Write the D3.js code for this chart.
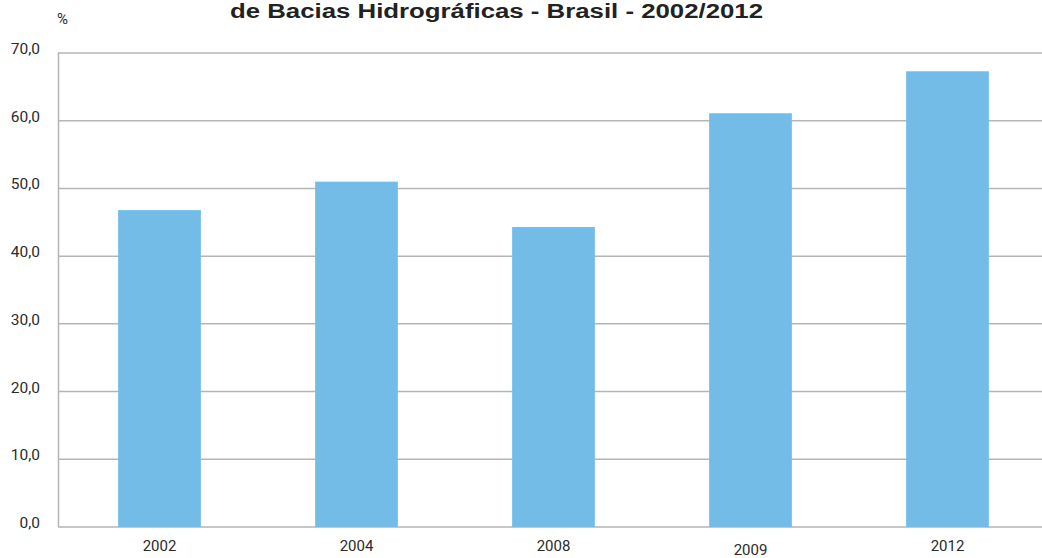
<!DOCTYPE html>
<html>
<head>
<meta charset="utf-8">
<script src="https://cdn.jsdelivr.net/npm/d3@7"></script>
<style>
  body { margin: 0; background: #fff; }
  svg { display: block; font-family: Roboto, "Liberation Sans", sans-serif; }
</style>
</head>
<body>
<div id="chart"></div>
<script>
const years = ["2002", "2004", "2008", "2009", "2012"];
const values = [46.8, 51.0, 44.3, 61.1, 67.3];
const yTicks = [0, 10, 20, 30, 40, 50, 60, 70];
const title = "de Bacias Hidrográficas - Brasil - 2002/2012";

document.addEventListener("DOMContentLoaded", function() {
    const width = 1042;
    const height = 558;
    const margin = { top: 53, right: 0, bottom: 31, left: 58 };

    const svg = d3.select('#chart')
        .append('svg')
        .attr('width', width)
        .attr('height', height);

    // bands are slightly off-centre in the original, so the range runs past the edge
    const xScale = d3.scaleBand()
        .domain(years)
        .range([61, 1046])
        .paddingInner(0.58)
        .paddingOuter(0.29);

    const yScale = d3.scaleLinear()
        .domain([0, 70])
        .range([height - margin.bottom, margin.top]);

    // grid lines
    svg.append('g')
        .selectAll('line')
        .data(yTicks)
        .join('line')
        .attr('x1', margin.left)
        .attr('x2', width - margin.right)
        .attr('y1', d => yScale(d))
        .attr('y2', d => yScale(d))
        .attr('stroke', '#b5b5b5')
        .attr('stroke-width', 1.5);

    // left axis line
    svg.append('line')
        .attr('x1', margin.left + 0.5)
        .attr('x2', margin.left + 0.5)
        .attr('y1', yScale(70))
        .attr('y2', yScale(0))
        .attr('stroke', '#b5b5b5')
        .attr('stroke-width', 1.5);

    // y tick labels
    svg.append('g')
        .selectAll('text')
        .data(yTicks)
        .join('text')
        .attr('x', 40)
        .attr('y', d => yScale(d) + 1)
        .attr('text-anchor', 'end')
        .attr('font-size', 15.5)
        .attr('fill', '#2b2b2b')
        .text(d => d3.format('.1f')(d).replace('.', ','));

    // bars
    svg.append('g')
        .selectAll('rect')
        .data(values)
        .join('rect')
        .attr('x', (d, i) => xScale(years[i]))
        .attr('y', d => yScale(d))
        .attr('width', xScale.bandwidth())
        .attr('height', d => yScale(0) - yScale(d))
        .attr('fill', '#74bce8');

    // x labels (2009 sits a bit lower in the original)
    svg.append('g')
        .selectAll('text')
        .data(years)
        .join('text')
        .attr('x', d => xScale(d) + xScale.bandwidth() / 2)
        .attr('y', d => d === '2009' ? 555 : 551)
        .attr('text-anchor', 'middle')
        .attr('font-size', 15)
        .attr('fill', '#2b2b2b')
        .text(d => d);

    svg.append('text')
        .attr('x', 57)
        .attr('y', 24)
        .attr('font-size', 15)
        .attr('fill', '#2b2b2b')
        .text('%');

    svg.append('text')
        .attr('x', 230)
        .attr('y', 18)
        .attr('font-family', '"Liberation Sans Narrow", "Liberation Sans", sans-serif')
        .attr('font-weight', 'bold')
        .attr('font-size', 20)
        .attr('fill', '#222')
        .attr('textLength', 533)
        .attr('lengthAdjust', 'spacingAndGlyphs')
        .text(title);
});
</script>
</body>
</html>
